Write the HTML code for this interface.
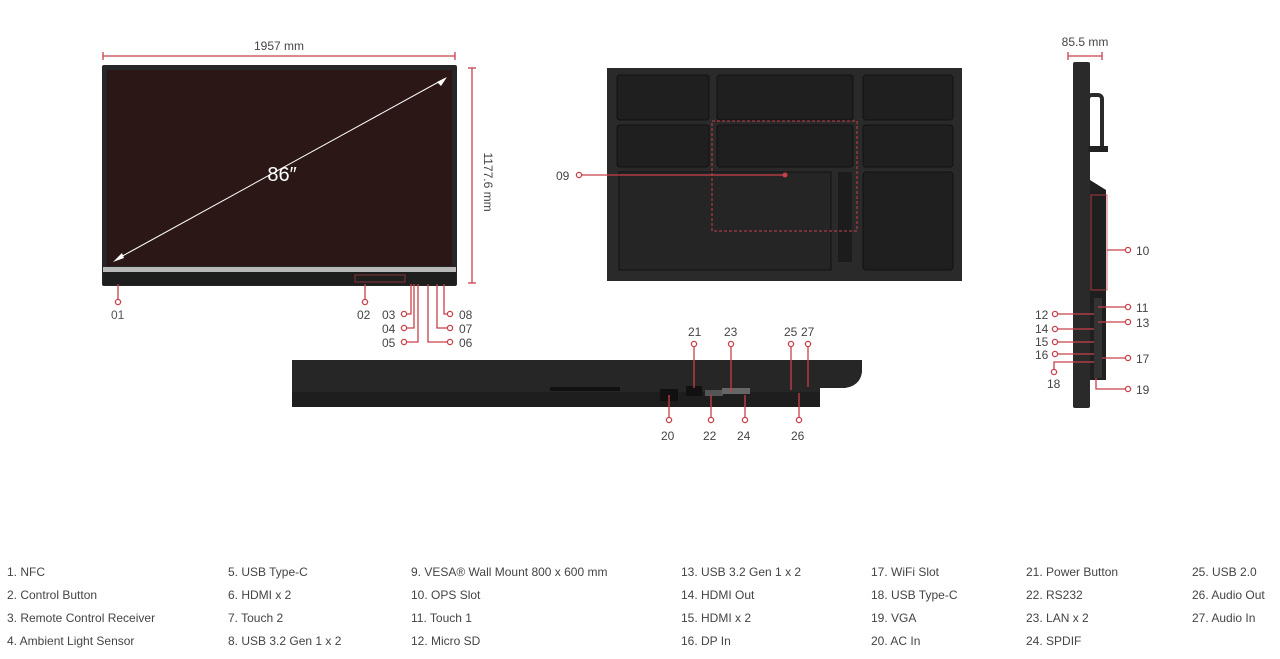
<!DOCTYPE html>
<html><head><meta charset="utf-8"><style>
html,body{margin:0;padding:0;background:#fff;width:1280px;height:659px;overflow:hidden}
svg{display:block}
text{font-family:"Liberation Sans",sans-serif;fill:#444}
.l{font-size:12px;fill:#555}
.c{fill:#fff;stroke:#c8404a;stroke-width:1.3}
.r{stroke:#c8404a;stroke-width:1.3;fill:none}
</style></head><body>
<svg width="1280" height="659" viewBox="0 0 1280 659">
<!-- front -->
<line x1="103" y1="56" x2="455" y2="56" class="r"/><line x1="103" y1="52" x2="103" y2="60" class="r"/><line x1="455" y1="52" x2="455" y2="60" class="r"/>
<text x="279" y="50" font-size="12" text-anchor="middle">1957 mm</text>
<line x1="472" y1="68" x2="472" y2="283" class="r"/><line x1="468" y1="68" x2="476" y2="68" class="r"/><line x1="468" y1="283" x2="476" y2="283" class="r"/>
<text x="0" y="0" font-size="12" text-anchor="middle" transform="translate(484,182) rotate(90)">1177.6 mm</text>
<rect x="102" y="65" width="355" height="221" rx="2" fill="#262626"/>
<rect x="107" y="70" width="345" height="196" fill="#2b1716"/>
<rect x="103" y="267" width="353" height="5" fill="#b9b9b9"/>
<rect x="103" y="272" width="353" height="13" fill="#1e1e1e"/>
<rect x="355" y="275" width="50" height="7" fill="none" stroke="#c8404a" stroke-width=".6"/>
<line x1="117" y1="259" x2="444" y2="79" stroke="#fff" stroke-width="1"/>
<polygon points="113,262 122,253 124,258" fill="#fff"/><polygon points="447,77 437,82 441,86" fill="#fff"/>
<text x="282" y="181" font-size="20" text-anchor="middle" style="fill:#fff">86″</text>
<line x1="118" y1="284" x2="118" y2="299" class="r"/><circle cx="118" cy="302" r="2.6" class="c"/><text x="111" y="319" class="l" style="font-size:12px">01</text>
<line x1="365" y1="284" x2="365" y2="299" class="r"/><circle cx="365" cy="302" r="2.6" class="c"/><text x="357" y="319" style="font-size:12px">02</text>
<polyline points="407,314 411,314 411,284" class="r"/><circle cx="404" cy="314" r="2.6" class="c"/><text x="382" y="319" font-size="12">03</text>
<polyline points="407,328 414,328 414,284" class="r"/><circle cx="404" cy="328" r="2.6" class="c"/><text x="382" y="333" font-size="12">04</text>
<polyline points="407,342 418,342 418,284" class="r"/><circle cx="404" cy="342" r="2.6" class="c"/><text x="382" y="347" font-size="12">05</text>
<polyline points="447,342 428,342 428,284" class="r"/><circle cx="450" cy="342" r="2.6" class="c"/><text x="459" y="347" font-size="12">06</text>
<polyline points="447,328 437,328 437,284" class="r"/><circle cx="450" cy="328" r="2.6" class="c"/><text x="459" y="333" font-size="12">07</text>
<polyline points="447,314 444,314 444,284" class="r"/><circle cx="450" cy="314" r="2.6" class="c"/><text x="459" y="319" font-size="12">08</text>
<!-- back -->
<rect x="607" y="68" width="355" height="213" fill="#2a2a2a"/>
<g fill="#1f1f1f" stroke="#111" stroke-width="1">
<rect x="617" y="75" width="92" height="45" rx="3"/><rect x="717" y="75" width="136" height="45" rx="3"/><rect x="863" y="75" width="90" height="45" rx="3"/>
<rect x="617" y="125" width="92" height="42" rx="3"/><rect x="717" y="125" width="136" height="42" rx="3"/><rect x="863" y="125" width="90" height="42" rx="3"/>
<rect x="619" y="172" width="212" height="98" fill="#252525"/><rect x="863" y="172" width="90" height="98" rx="3"/>
</g>
<rect x="838" y="172" width="14" height="90" fill="#1c1c1c"/>
<rect x="712" y="121" width="145" height="110" fill="none" stroke="#c8404a" stroke-width="1" stroke-dasharray="3,2"/>
<line x1="582" y1="175" x2="785" y2="175" class="r"/><circle cx="785" cy="175" r="2.5" fill="#c8404a"/>
<circle cx="579" cy="175" r="2.6" class="c"/><text x="556" y="180" font-size="12">09</text>
<!-- side -->
<line x1="1068" y1="56" x2="1102" y2="56" class="r"/><line x1="1068" y1="52" x2="1068" y2="60" class="r"/><line x1="1102" y1="52" x2="1102" y2="60" class="r"/>
<text x="1085" y="46" font-size="12" text-anchor="middle">85.5 mm</text>
<rect x="1073" y="62" width="17" height="346" rx="2" fill="#2a2a2a"/>
<rect x="1088" y="95" width="14" height="55" rx="4" fill="none" stroke="#2a2a2a" stroke-width="4"/>
<rect x="1088" y="146" width="20" height="6" fill="#222"/>
<polygon points="1090,180 1106,190 1106,380 1090,380" fill="#1f1f1f"/>
<rect x="1091" y="195" width="16" height="95" fill="none" stroke="#c8404a" stroke-width=".8"/>
<rect x="1094" y="298" width="8" height="80" fill="#333"/>
<line x1="1107" y1="250" x2="1125" y2="250" class="r"/><circle cx="1128" cy="250" r="2.6" class="c"/><text x="1136" y="255" font-size="12">10</text>
<line x1="1098" y1="307" x2="1125" y2="307" class="r"/><circle cx="1128" cy="307" r="2.6" class="c"/><text x="1136" y="312" font-size="12">11</text>
<line x1="1098" y1="322" x2="1125" y2="322" class="r"/><circle cx="1128" cy="322" r="2.6" class="c"/><text x="1136" y="327" font-size="12">13</text>
<line x1="1102" y1="358" x2="1125" y2="358" class="r"/><circle cx="1128" cy="358" r="2.6" class="c"/><text x="1136" y="363" font-size="12">17</text>
<polyline points="1096,378 1096,389 1125,389" class="r"/><circle cx="1128" cy="389" r="2.6" class="c"/><text x="1136" y="394" font-size="12">19</text>
<line x1="1058" y1="314" x2="1094" y2="314" class="r"/><circle cx="1055" cy="314" r="2.6" class="c"/><text x="1035" y="319" font-size="12">12</text>
<line x1="1058" y1="329" x2="1094" y2="329" class="r"/><circle cx="1055" cy="329" r="2.6" class="c"/><text x="1035" y="333" font-size="12">14</text>
<line x1="1058" y1="342" x2="1094" y2="342" class="r"/><circle cx="1055" cy="342" r="2.6" class="c"/><text x="1035" y="346" font-size="12">15</text>
<line x1="1058" y1="354" x2="1094" y2="354" class="r"/><circle cx="1055" cy="354" r="2.6" class="c"/><text x="1035" y="359" font-size="12">16</text>
<polyline points="1054,369 1054,362 1094,362" class="r"/><circle cx="1054" cy="372" r="2.6" class="c"/><text x="1047" y="388" font-size="12">18</text>
<!-- bottom -->
<path d="M292,360 H862 V372 Q860,386 845,388 H820 V407 H292 Z" fill="#262626"/>
<rect x="292" y="392" width="528" height="15" fill="#1e1e1e"/>
<rect x="550" y="387" width="70" height="4" fill="#111"/>
<rect x="660" y="389" width="18" height="12" fill="#111"/><rect x="686" y="386" width="16" height="10" fill="#111"/>
<rect x="705" y="390" width="18" height="6" fill="#555"/><rect x="722" y="388" width="28" height="6" fill="#666"/>
<line x1="694" y1="347" x2="694" y2="388" class="r"/><circle cx="694" cy="344" r="2.6" class="c"/><text x="688" y="336" font-size="12">21</text>
<line x1="731" y1="347" x2="731" y2="392" class="r"/><circle cx="731" cy="344" r="2.6" class="c"/><text x="724" y="336" font-size="12">23</text>
<line x1="791" y1="347" x2="791" y2="390" class="r"/><circle cx="791" cy="344" r="2.6" class="c"/><text x="784" y="336" font-size="12">25</text>
<line x1="808" y1="347" x2="808" y2="387" class="r"/><circle cx="808" cy="344" r="2.6" class="c"/><text x="801" y="336" font-size="12">27</text>
<line x1="669" y1="395" x2="669" y2="417" class="r"/><circle cx="669" cy="420" r="2.6" class="c"/><text x="661" y="440" font-size="12">20</text>
<line x1="711" y1="395" x2="711" y2="417" class="r"/><circle cx="711" cy="420" r="2.6" class="c"/><text x="703" y="440" font-size="12">22</text>
<line x1="745" y1="395" x2="745" y2="417" class="r"/><circle cx="745" cy="420" r="2.6" class="c"/><text x="737" y="440" font-size="12">24</text>
<line x1="799" y1="393" x2="799" y2="417" class="r"/><circle cx="799" cy="420" r="2.6" class="c"/><text x="791" y="440" font-size="12">26</text>
<!-- legend -->
<g class="l">
<text x="7" y="576">1. NFC</text><text x="7" y="599">2. Control Button</text><text x="7" y="622">3. Remote Control Receiver</text><text x="7" y="645">4. Ambient Light Sensor</text>
<text x="228" y="576">5. USB Type-C</text><text x="228" y="599">6. HDMI x 2</text><text x="228" y="622">7. Touch 2</text><text x="228" y="645">8. USB 3.2 Gen 1 x 2</text>
<text x="411" y="576">9. VESA® Wall Mount 800 x 600 mm</text><text x="411" y="599">10. OPS Slot</text><text x="411" y="622">11. Touch 1</text><text x="411" y="645">12. Micro SD</text>
<text x="681" y="576">13. USB 3.2 Gen 1 x 2</text><text x="681" y="599">14. HDMI Out</text><text x="681" y="622">15. HDMI x 2</text><text x="681" y="645">16. DP In</text>
<text x="871" y="576">17. WiFi Slot</text><text x="871" y="599">18. USB Type-C</text><text x="871" y="622">19. VGA</text><text x="871" y="645">20. AC In</text>
<text x="1026" y="576">21. Power Button</text><text x="1026" y="599">22. RS232</text><text x="1026" y="622">23. LAN x 2</text><text x="1026" y="645">24. SPDIF</text>
<text x="1192" y="576">25. USB 2.0</text><text x="1192" y="599">26. Audio Out</text><text x="1192" y="622">27. Audio In</text>
</g>
</svg>
</body></html>
